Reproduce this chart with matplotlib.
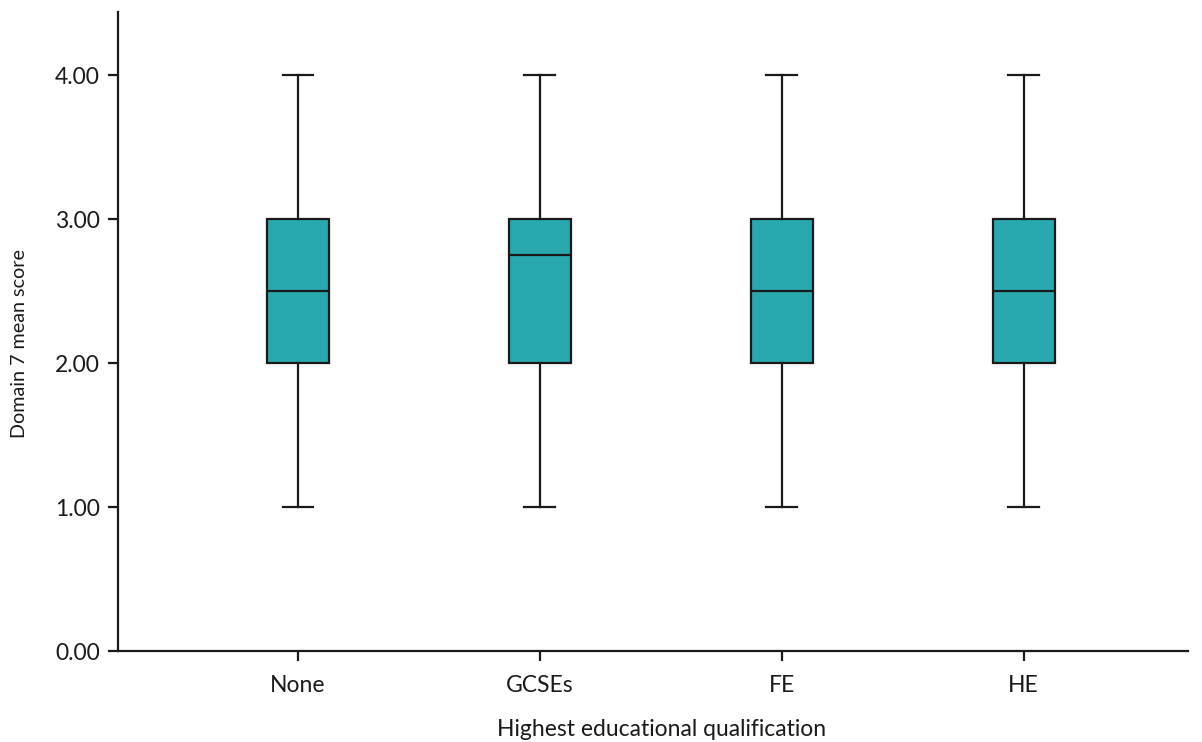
import matplotlib.pyplot as plt

plt.rcParams['font.family'] = ['Lato', 'DejaVu Sans']

categories = ['None', 'GCSEs', 'FE', 'HE']
whislo = [1.00, 1.00, 1.00, 1.00]
q1 = [2.00, 2.00, 2.00, 2.00]
med = [2.50, 2.75, 2.50, 2.50]
q3 = [3.00, 3.00, 3.00, 3.00]
whishi = [4.00, 4.00, 4.00, 4.00]

stats = []
for i, c in enumerate(categories):
    stats.append({'label': c, 'whislo': whislo[i], 'q1': q1[i], 'med': med[i],
                  'q3': q3[i], 'whishi': whishi[i], 'fliers': []})

fig = plt.figure(figsize=(12.02, 7.42), dpi=100)
ax = fig.add_axes([0.0982, 0.1226, 0.8898, 0.8612])

ax.bxp(stats, positions=range(len(categories)), widths=0.256, patch_artist=True,
       showfliers=False,
       boxprops=dict(facecolor='#2aa8b0', edgecolor='#1a1a1a', linewidth=1.6),
       medianprops=dict(color='#1a1a1a', linewidth=1.6),
       whiskerprops=dict(color='#1a1a1a', linewidth=1.6),
       capprops=dict(color='#1a1a1a', linewidth=1.6),
       capwidths=0.128)

ax.set_xlim(-0.744, 3.678)
ax.set_ylim(0, 4.44)
ax.set_yticks([0, 1, 2, 3, 4])
ax.set_yticklabels(['%.2f' % v for v in [0, 1, 2, 3, 4]])
ax.set_xticks(range(len(categories)))
ax.set_xticklabels(categories)

for s in ['top', 'right']:
    ax.spines[s].set_visible(False)
for s in ['left', 'bottom']:
    ax.spines[s].set_linewidth(1.6)
    ax.spines[s].set_color('#1a1a1a')
ax.tick_params(axis='both', direction='out', length=7.2, width=1.6, color='#1a1a1a',
               labelsize=16.5, labelcolor='#1a1a1a')
ax.tick_params(axis='y', pad=6)
ax.tick_params(axis='x', pad=10)

# axis titles
fig.text(20 / 1202, 1 - 343 / 742, 'Domain 7 mean score', rotation=90,
         ha='center', va='center', fontsize=14.2, color='#1a1a1a')
fig.text(662 / 1202, 1 - 729 / 742, 'Highest educational qualification',
         ha='center', va='center', fontsize=16.5, color='#1a1a1a')

fig.savefig('out.png', dpi=100)
